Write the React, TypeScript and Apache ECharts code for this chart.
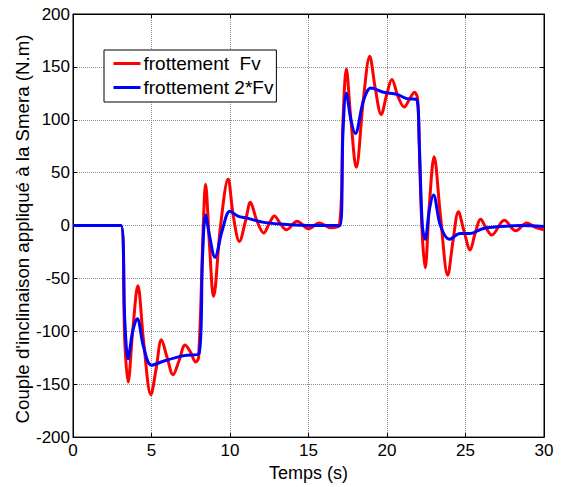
import React, { useEffect, useRef } from "react";
import * as echarts from "echarts";

const xTicks = [0, 5, 10, 15, 20, 25, 30];
const yTicks = [-200, -150, -100, -50, 0, 50, 100, 150, 200];

const seriesNames = ["frottement  Fv", "frottement 2*Fv"];
const yAxisTitle = "Couple d'inclinaison appliqué à la Smera (N.m)";

const fvData: [number, number][] = [
  [0, 0], [3.05, 0], [3.3, -110], [3.51, -148], [3.8, -100], [4.13, -57], [4.5, -110],
  [4.96, -160], [5.3, -135], [5.63, -108], [6.0, -125], [6.37, -141], [6.75, -128],
  [7.14, -113], [7.5, -120], [7.81, -129], [8.0, -125], [8.3, 0], [8.44, 39], [8.7, -20],
  [8.95, -67], [9.4, 0], [9.88, 44], [10.2, 10], [10.6, -15], [11.0, 5], [11.3, 22],
  [11.7, 5], [12.15, -7], [12.5, 2], [12.83, 9], [13.2, 2], [13.6, -4], [14.27, 4],
  [15.0, -3], [15.7, 2.5], [16.4, -2], [16.97, 0], [17.2, 100], [17.41, 148], [17.7, 100],
  [18.04, 55], [18.5, 120], [18.9, 160], [19.25, 130], [19.63, 105], [20.0, 125],
  [20.31, 138], [20.7, 122], [21.1, 112], [21.45, 120], [21.75, 126], [21.95, 120],
  [22.1, 50], [22.25, -10], [22.43, -40], [22.7, 20], [23.0, 65], [23.4, 10], [23.87, -47],
  [24.2, -15], [24.55, 13], [24.9, -5], [25.3, -23], [25.6, -8], [25.97, 6], [26.3, -2],
  [26.67, -9], [27.47, 5], [28.2, -5], [28.9, 2.5], [29.5, -2], [30, -4],
];

const fv2Data: [number, number][] = [
  [0, 0], [3.05, 0], [3.3, -90], [3.51, -126], [3.8, -100], [4.09, -88], [4.5, -115],
  [5.0, -132], [5.8, -128], [7.07, -123], [8.03, -121], [8.25, -30], [8.44, 10], [8.7, -10],
  [9.04, -30], [9.5, -5], [10.0, 13.5], [10.5, 9], [11.1, 7], [12.15, 3], [13.6, 1],
  [15.3, 0], [17.0, 0], [17.2, 90], [17.41, 125], [17.7, 100], [17.98, 87], [18.5, 118],
  [18.98, 130], [19.78, 126], [20.63, 124], [21.26, 120], [21.9, 119], [22.05, 80],
  [22.25, 0], [22.43, -13], [22.7, 15], [22.96, 29], [23.4, 0], [23.97, -13], [24.65, -7.5],
  [25.3, -7.5], [26.1, -3], [27.2, -1], [28.5, 0], [30, -1],
];

const FONT = "Liberation Sans, Arial, sans-serif";

export default function App() {
  const ref = useRef<HTMLDivElement>(null);
  useEffect(() => {
    if (!ref.current) return;
    const chart = echarts.init(ref.current, null, { renderer: "svg" });
    const gridLine = { show: true, lineStyle: { color: "#8c8c8c", type: "dotted" as const, width: 1 } };
    const tick = { show: true, inside: true, length: 4, lineStyle: { color: "#000" } };
    const axisLine = { show: true, onZero: false, lineStyle: { color: "#000" } };
    chart.setOption({
      animation: false,
      backgroundColor: "#fff",
      grid: { left: 73, right: 17, top: 14, bottom: 49, show: true, borderColor: "#000", borderWidth: 1, backgroundColor: "#fff" },
      graphic: [
        {
          type: "text",
          x: 22, y: 229,
          rotation: Math.PI / 2,
          style: {
            text: yAxisTitle,
            fontFamily: FONT, fontSize: 18.7, fill: "#000",
            align: "center", verticalAlign: "middle",
          },
        },
      ],
      legend: {
        left: 104, top: 50,
        orient: "vertical",
        data: seriesNames,
        backgroundColor: "#fff",
        borderColor: "#000",
        borderWidth: 1,
        borderRadius: 0,
        padding: [4, 3, 5, 8],
        itemWidth: 27,
        itemHeight: 14,
        itemGap: 5,
        itemStyle: { opacity: 0 },
        lineStyle: { width: 3 },
        textStyle: { fontFamily: FONT, fontSize: 19, color: "#000", padding: [0, 0, 0, -2] },
      },
      xAxis: [
        {
          type: "value", min: 0, max: 30, interval: 5,
          name: "Temps (s)", nameLocation: "middle", nameGap: 25,
          nameTextStyle: { fontFamily: FONT, fontSize: 18, color: "#000" },
          axisLine,
          axisTick: tick,
          axisLabel: { fontFamily: FONT, fontSize: 17, color: "#000", margin: 5,
            formatter: (v: number) => (xTicks.includes(v) ? String(v) : "") },
          splitLine: gridLine,
        },
        {
          type: "value", min: 0, max: 30, interval: 5, position: "top",
          axisLine,
          axisTick: tick, axisLabel: { show: false }, splitLine: { show: false },
        },
      ],
      yAxis: [
        {
          type: "value", min: -200, max: 200, interval: 50,
          axisLine,
          axisTick: tick,
          axisLabel: { fontFamily: FONT, fontSize: 17, color: "#000", margin: 3,
            formatter: (v: number) => (yTicks.includes(v) ? String(v) : "") },
          splitLine: gridLine,
        },
        {
          type: "value", min: -200, max: 200, interval: 50, position: "right",
          axisLine,
          axisTick: tick, axisLabel: { show: false }, splitLine: { show: false },
        },
      ],
      series: [
        {
          name: seriesNames[0], type: "line", data: fvData, smooth: 0.35,
          symbol: "none", lineStyle: { color: "#ff0000", width: 3 }, itemStyle: { color: "#ff0000" },
        },
        {
          name: seriesNames[1], type: "line", data: fv2Data, smooth: 0.35,
          symbol: "none", lineStyle: { color: "#0000ff", width: 3 }, itemStyle: { color: "#0000ff" },
        },
      ],
    });
    return () => chart.dispose();
  }, []);
  return <div ref={ref} style={{ width: 561, height: 487, position: "absolute", left: 0, top: 0 }} />;
}
